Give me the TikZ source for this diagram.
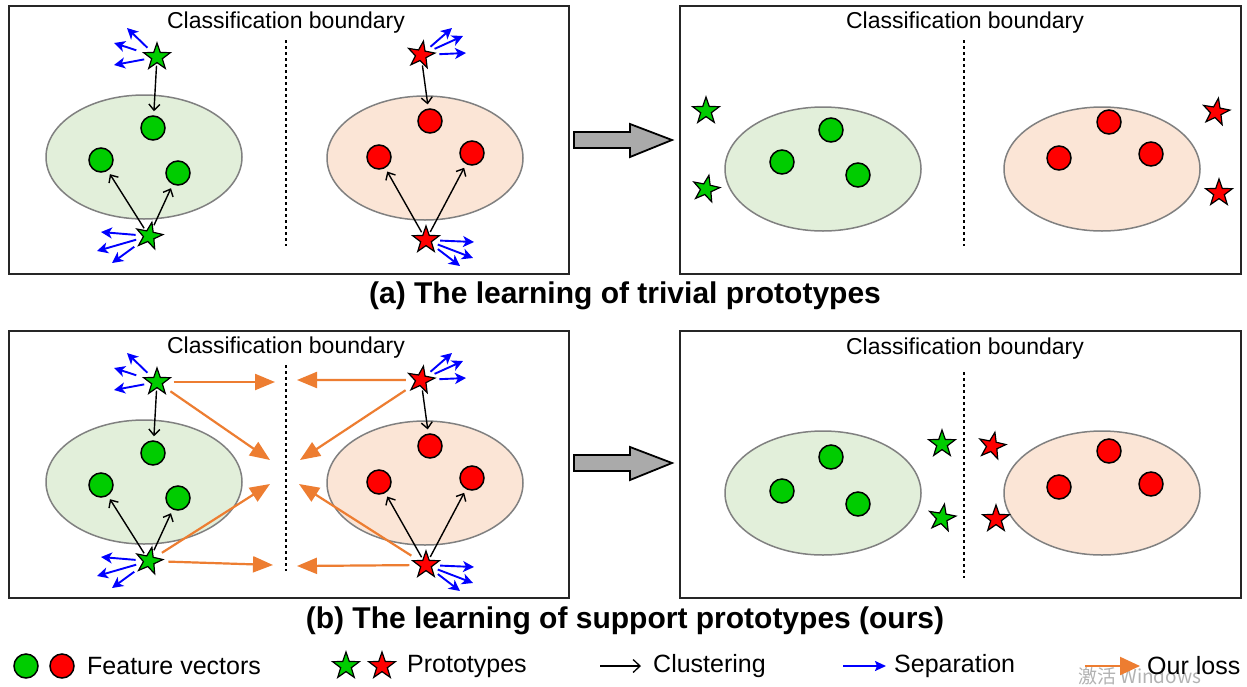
\documentclass[tikz,border=0pt]{standalone}
\usepackage{fontspec}
\setmainfont{Liberation Sans}
\newfontfamily\cjkfont{Noto Sans CJK SC}
\usetikzlibrary{shapes.geometric,arrows.meta}

\definecolor{gfill}{RGB}{0,204,0}
\definecolor{rfill}{RGB}{255,0,0}
\definecolor{gell}{RGB}{226,239,218}
\definecolor{rell}{RGB}{251,229,214}
\definecolor{ellline}{RGB}{128,128,128}
\definecolor{lossorange}{RGB}{237,125,49}
\definecolor{sepblue}{RGB}{0,0,255}
\definecolor{arrowgray}{RGB}{170,170,170}

\tikzset{
 panel/.style={draw=black!85, line width=1.2pt},
 gellipse/.style={ellipse, draw=ellline, line width=1.5pt, fill=gell, minimum width=196pt, minimum height=124pt, inner sep=0pt},
 rellipse/.style={gellipse, fill=rell},
 dot/.style={circle, draw=black, line width=1.5pt, minimum size=24pt, inner sep=0pt},
 gdot/.style={dot, fill=gfill},
 rdot/.style={dot, fill=rfill},
 proto/.style={star, star points=5, star point ratio=2.5, draw=black, line width=1.2pt, minimum size=28pt, inner sep=0pt},
 gstar/.style={proto, fill=gfill},
 rstar/.style={proto, fill=rfill},
 clus/.style={-{Straight Barb[length=6pt,width=11pt]}, line width=1.4pt, shorten >=4pt, shorten <=2pt},
 sep/.style={-{Stealth[length=11pt,width=11pt,inset=3pt]}, sepblue, line width=1.9pt, shorten <=6pt},
 loss/.style={-{Triangle[length=20pt,width=16pt]}, lossorange, line width=2.2pt, shorten <=8pt},
 bound/.style={line width=2pt, dash pattern=on 3pt off 3pt},
 ptitle/.style={font=\fontsize{23}{27}\selectfont, inner sep=0pt},
 pcaption/.style={font=\bfseries\fontsize{30}{34}\selectfont, inner sep=0pt},
 legtext/.style={font=\fontsize{25}{30}\selectfont, anchor=west, inner sep=0pt},
 bigarrow/.style={draw=black, line width=1.8pt, fill=arrowgray, line join=miter},
}

% left panel contents (identical in (a) and (b), shifted)
\newcommand\clusterpanel[1]{%
 \node[ptitle] (ttl#1) at (286,23) {Classification boundary};
 \coordinate (bt#1) at (286,40);
 \coordinate (bb#1) at (286,246);
 \draw[bound] (bt#1) -- (bb#1);
 \node[gellipse] (ge#1) at (144,157) {};
 \node[rellipse] (re#1) at (425,158) {};
 \node[gdot] (gca#1) at (153,128) {};
 \node[gdot] (gcb#1) at (101,160) {};
 \node[gdot] (gcc#1) at (178,173) {};
 \node[rdot] (rca#1) at (430,121) {};
 \node[rdot] (rcb#1) at (379,157) {};
 \node[rdot] (rcc#1) at (472,153) {};
 \node[gstar] (gsa#1) at (157,57) {};
 \node[gstar, rotate=-12] (gsb#1) at (149,236) {};
 \node[rstar, rotate=-10] (rsa#1) at (421,55) {};
 \node[rstar] (rsb#1) at (426,240) {};
 \draw[clus] (gsa#1) -- (gca#1);
 \draw[clus] (gsb#1) -- (gcb#1);
 \draw[clus] (gsb#1) -- (gcc#1);
 \draw[clus] (rsa#1) -- (rca#1);
 \draw[clus] (rsb#1) -- (rcb#1);
 \draw[clus] (rsb#1) -- (rcc#1);
 \coordinate (ga1#1) at (127,28);
 \coordinate (ga2#1) at (114,43);
 \coordinate (ga3#1) at (114,65);
 \coordinate (gb1#1) at (101,232);
 \coordinate (gb2#1) at (97,251);
 \coordinate (gb3#1) at (112,263);
 \coordinate (ra1#1) at (452,28);
 \coordinate (ra2#1) at (463,36);
 \coordinate (ra3#1) at (466,53);
 \coordinate (rb1#1) at (474,242);
 \coordinate (rb2#1) at (473,258);
 \coordinate (rb3#1) at (460,266);
 \foreach \t in {ga1,ga2,ga3}{\draw[sep] (gsa#1) -- (\t#1);}
 \foreach \t in {gb1,gb2,gb3}{\draw[sep] (gsb#1) -- (\t#1);}
 \foreach \t in {ra1,ra2,ra3}{\draw[sep] (rsa#1) -- (\t#1);}
 \foreach \t in {rb1,rb2,rb3}{\draw[sep] (rsb#1) -- (\t#1);}
}

\begin{document}
\begin{tikzpicture}[x=1pt,y=-1pt]
\useasboundingbox (0,0) rectangle (1247,686);
\fill[white] (0,0) rectangle (1247,686);

% ---------- (a) ----------
\draw[panel] (9,6) rectangle (569,274);
\clusterpanel{A}

\draw[bigarrow] (574,132) -- (630,132) -- (630,124) -- (672,140) -- (630,157) -- (630,148) -- (574,148) -- cycle;

\draw[panel] (680,6) rectangle (1241,274);
\node[ptitle] (ttlAR) at (965,23) {Classification boundary};
\coordinate (btAR) at (964,40);
\coordinate (bbAR) at (964,246);
\draw[bound] (btAR) -- (bbAR);
\node[gellipse] (geAR) at (823,169) {};
\node[rellipse] (reAR) at (1102,169) {};
\node[gdot] (gcaAR) at (831,130) {};
\node[gdot] (gcbAR) at (782,162) {};
\node[gdot] (gccAR) at (858,175) {};
\node[rdot] (rcaAR) at (1109,122) {};
\node[rdot] (rcbAR) at (1059,158) {};
\node[rdot] (rccAR) at (1151,154) {};
\node[gstar] (gsaAR) at (706,111) {};
\node[gstar, rotate=-12] (gsbAR) at (706,189) {};
\node[rstar, rotate=-10] (rsaAR) at (1216,112) {};
\node[rstar] (rsbAR) at (1219,193) {};

\node[pcaption] (capA) at (625,296) {(a) The learning of trivial prototypes};

% ---------- (b) ----------
\draw[panel] (9,331) rectangle (569,598);
\begin{scope}[shift={(0,325)}]
\clusterpanel{B}
\end{scope}

\coordinate (oL1) at (275,382);
\coordinate (oL2) at (270,460);
\coordinate (oL3) at (270,484);
\coordinate (oL4) at (273,565);
\coordinate (oR1) at (297,380);
\coordinate (oR2) at (300,460);
\coordinate (oR3) at (299,484);
\coordinate (oR4) at (297,566);
\draw[loss] (gsaB) -- (oL1);
\draw[loss] (gsaB) -- (oL2);
\draw[loss] (gsbB) -- (oL3);
\draw[loss] (gsbB) -- (oL4);
\draw[loss] (rsaB) -- (oR1);
\draw[loss] (rsaB) -- (oR2);
\draw[loss] (rsbB) -- (oR3);
\draw[loss] (rsbB) -- (oR4);

\draw[bigarrow] (574,455) -- (630,455) -- (630,447) -- (672,463) -- (630,480) -- (630,471) -- (574,471) -- cycle;

\draw[panel] (680,331) rectangle (1241,598);
\node[ptitle] (ttlBR) at (965,349) {Classification boundary};
\coordinate (btBR) at (964,372);
\coordinate (bbBR) at (964,578);
\draw[bound] (btBR) -- (bbBR);
\node[gellipse] (geBR) at (823,493) {};
\node[rellipse] (reBR) at (1102,493) {};
\node[gdot] (gcaBR) at (831,457) {};
\node[gdot] (gcbBR) at (782,491) {};
\node[gdot] (gccBR) at (858,504) {};
\node[rdot] (rcaBR) at (1109,451) {};
\node[rdot] (rcbBR) at (1059,487) {};
\node[rdot] (rccBR) at (1151,484) {};
\node[gstar] (gsaBR) at (942,444) {};
\node[gstar, rotate=-10] (gsbBR) at (942,518) {};
\node[rstar, rotate=-12] (rsaBR) at (992,446) {};
\node[rstar] (rsbBR) at (996,519) {};

\node[pcaption] (capB) at (625,621) {(b) The learning of support prototypes (ours)};

% ---------- legend ----------
\node[gdot] (lgc) at (26,666) {};
\node[rdot] (lrc) at (62,666) {};
\node[legtext] (ltf) at (87,666) {Feature vectors};
\node[gstar] (lgs) at (346,666) {};
\node[rstar] (lrs) at (382,666) {};
\node[legtext] (ltp) at (407,666) {Prototypes};
\coordinate (lka) at (600,666);
\coordinate (lkb) at (641,666);
\draw[-{Straight Barb[length=7pt,width=13pt]}, line width=1.3pt] (lka) -- (lkb);
\node[legtext] (ltc) at (653,666) {Clustering};
\coordinate (lba) at (843,666);
\coordinate (lbb) at (886,666);
\draw[-{Stealth[length=11pt,width=10pt,inset=2pt]}, sepblue, line width=1.8pt] (lba) -- (lbb);
\node[legtext] (lts) at (894,666) {Separation};
\node[anchor=west, inner sep=0pt, text=black!30, font=\cjkfont\fontsize{19}{22}\selectfont] (wm) at (1078,676) {激活 Windows};
\coordinate (loa) at (1085,666);
\coordinate (lob) at (1140,666);
\draw[-{Triangle[length=20pt,width=18pt]}, lossorange, line width=2.2pt] (loa) -- (lob);
\node[legtext] (lto) at (1147,666) {Our loss};
\end{tikzpicture}
\end{document}
